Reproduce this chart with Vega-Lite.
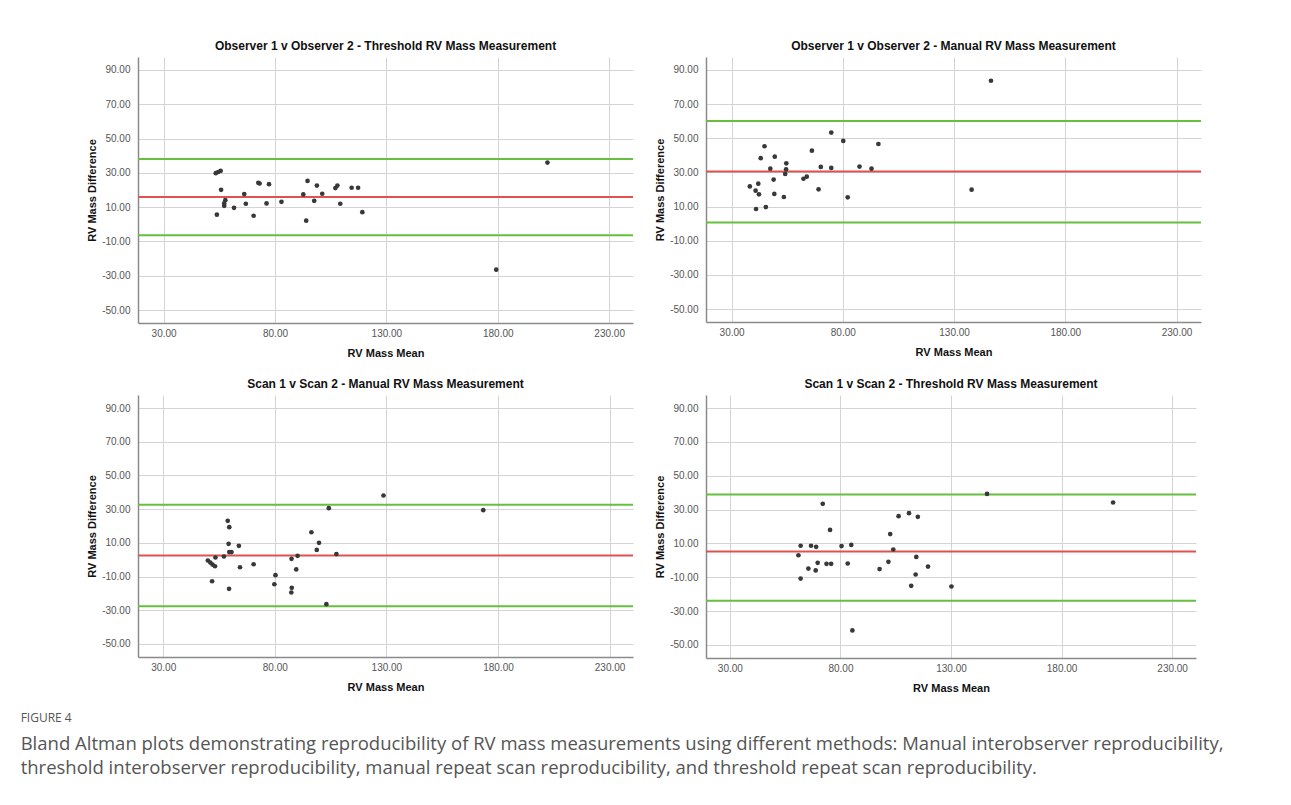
{
  "$schema": "https://vega.github.io/schema/vega-lite/v6.json",
  "background": "white",
  "padding": {"left": 20, "top": 40, "right": 10, "bottom": 10},
  "config": {
    "view": {"stroke": null},
    "font": "Liberation Sans",
    "axis": {
      "grid": true, "gridColor": "#d4d4d4", "gridWidth": 1,
      "ticks": false, "domainColor": "#8a8a8a", "domainWidth": 1.5,
      "labelColor": "#555555", "labelFont": "Liberation Sans", "labelFontSize": 10, "labelOverlap": false,
      "labelExpr": "replace(format(datum.value, '.2f'), '\u2212', '-')",
      "tickCount": 20,
      "titleFont": "Liberation Sans", "titleFontSize": 11, "titleFontWeight": "bold", "titleColor": "#111111"
    },
    "axisX": {"labelPadding": 5, "titlePadding": 9},
    "axisY": {"labelPadding": 8, "titlePadding": 4}
  },
  "datasets": {
    "points": [
      {"panel":1,"mean":53.4,"diff":29.8},{"panel":1,"mean":54.5,"diff":30.5},{"panel":1,"mean":55.6,"diff":31.1},{"panel":1,"mean":55.8,"diff":20.1},{"panel":1,"mean":53.9,"diff":5.6},{"panel":1,"mean":57.2,"diff":12.2},{"panel":1,"mean":57.7,"diff":14.1},{"panel":1,"mean":57.2,"diff":10.8},{"panel":1,"mean":61.6,"diff":9.6},{"panel":1,"mean":66.2,"diff":17.6},{"panel":1,"mean":66.9,"diff":12.0},{"panel":1,"mean":70.4,"diff":5.0},{"panel":1,"mean":72.5,"diff":24.2},{"panel":1,"mean":73.1,"diff":23.8},{"panel":1,"mean":77.3,"diff":23.4},{"panel":1,"mean":76.2,"diff":12.2},{"panel":1,"mean":82.9,"diff":13.1},{"panel":1,"mean":92.7,"diff":17.4},{"panel":1,"mean":94.6,"diff":25.3},{"panel":1,"mean":94.0,"diff":2.1},{"panel":1,"mean":97.6,"diff":13.7},{"panel":1,"mean":98.8,"diff":22.6},{"panel":1,"mean":101.2,"diff":17.8},{"panel":1,"mean":107.1,"diff":21.1},{"panel":1,"mean":108.0,"diff":22.6},{"panel":1,"mean":109.3,"diff":12.0},{"panel":1,"mean":114.4,"diff":21.3},{"panel":1,"mean":117.3,"diff":21.3},{"panel":1,"mean":119.2,"diff":7.1},{"panel":1,"mean":179.3,"diff":-26.4},{"panel":1,"mean":202.3,"diff":36.0},
      {"panel":2,"mean":38.2,"diff":21.8},{"panel":2,"mean":40.8,"diff":19.3},{"panel":2,"mean":41.0,"diff":8.6},{"panel":2,"mean":42.0,"diff":23.4},{"panel":2,"mean":42.3,"diff":17.2},{"panel":2,"mean":43.1,"diff":38.3},{"panel":2,"mean":44.8,"diff":45.3},{"panel":2,"mean":45.4,"diff":9.7},{"panel":2,"mean":47.4,"diff":32.2},{"panel":2,"mean":48.9,"diff":25.8},{"panel":2,"mean":49.4,"diff":39.2},{"panel":2,"mean":49.2,"diff":17.4},{"panel":2,"mean":53.5,"diff":15.6},{"panel":2,"mean":54.1,"diff":29.1},{"panel":2,"mean":54.5,"diff":31.8},{"panel":2,"mean":54.6,"diff":35.3},{"panel":2,"mean":62.3,"diff":26.3},{"panel":2,"mean":63.8,"diff":27.5},{"panel":2,"mean":66.1,"diff":42.7},{"panel":2,"mean":69.1,"diff":20.1},{"panel":2,"mean":70.1,"diff":33.2},{"panel":2,"mean":74.8,"diff":53.3},{"panel":2,"mean":74.8,"diff":32.6},{"panel":2,"mean":80.2,"diff":48.4},{"panel":2,"mean":82.2,"diff":15.4},{"panel":2,"mean":87.5,"diff":33.4},{"panel":2,"mean":92.9,"diff":32.2},{"panel":2,"mean":96.0,"diff":46.6},{"panel":2,"mean":137.9,"diff":19.9},{"panel":2,"mean":146.6,"diff":83.6},
      {"panel":3,"mean":50.0,"diff":-0.5},{"panel":3,"mean":51.1,"diff":-1.7},{"panel":3,"mean":52.1,"diff":-2.9},{"panel":3,"mean":53.2,"diff":-3.9},{"panel":3,"mean":53.4,"diff":1.3},{"panel":3,"mean":51.9,"diff":-12.8},{"panel":3,"mean":57.2,"diff":1.9},{"panel":3,"mean":58.9,"diff":23.1},{"panel":3,"mean":59.6,"diff":19.3},{"panel":3,"mean":59.3,"diff":9.4},{"panel":3,"mean":59.6,"diff":4.5},{"panel":3,"mean":60.6,"diff":4.5},{"panel":3,"mean":59.5,"diff":-17.3},{"panel":3,"mean":63.9,"diff":8.2},{"panel":3,"mean":64.4,"diff":-4.5},{"panel":3,"mean":70.5,"diff":-2.7},{"panel":3,"mean":79.8,"diff":-14.6},{"panel":3,"mean":80.3,"diff":-9.2},{"panel":3,"mean":87.5,"diff":0.5},{"panel":3,"mean":87.6,"diff":-16.7},{"panel":3,"mean":87.4,"diff":-19.5},{"panel":3,"mean":89.6,"diff":-5.8},{"panel":3,"mean":90.2,"diff":2.3},{"panel":3,"mean":96.4,"diff":16.3},{"panel":3,"mean":98.8,"diff":5.8},{"panel":3,"mean":99.8,"diff":10.0},{"panel":3,"mean":103.1,"diff":-26.4},{"panel":3,"mean":104.2,"diff":30.6},{"panel":3,"mean":107.6,"diff":3.3},{"panel":3,"mean":128.7,"diff":38.1},{"panel":3,"mean":173.4,"diff":29.4},
      {"panel":4,"mean":61.0,"diff":3.0},{"panel":4,"mean":62.0,"diff":8.6},{"panel":4,"mean":62.0,"diff":-10.8},{"panel":4,"mean":65.5,"diff":-4.9},{"panel":4,"mean":66.7,"diff":8.6},{"panel":4,"mean":69.0,"diff":8.0},{"panel":4,"mean":68.8,"diff":-6.0},{"panel":4,"mean":69.7,"diff":-1.5},{"panel":4,"mean":72.0,"diff":33.4},{"panel":4,"mean":73.7,"diff":-2.1},{"panel":4,"mean":75.8,"diff":-2.1},{"panel":4,"mean":75.3,"diff":18.0},{"panel":4,"mean":80.5,"diff":8.4},{"panel":4,"mean":83.3,"diff":-1.9},{"panel":4,"mean":84.9,"diff":9.1},{"panel":4,"mean":85.4,"diff":-41.5},{"panel":4,"mean":97.7,"diff":-5.2},{"panel":4,"mean":101.7,"diff":-0.9},{"panel":4,"mean":102.5,"diff":15.5},{"panel":4,"mean":103.9,"diff":6.4},{"panel":4,"mean":106.3,"diff":26.1},{"panel":4,"mean":111.0,"diff":27.9},{"panel":4,"mean":112.0,"diff":-15.1},{"panel":4,"mean":114.0,"diff":-8.4},{"panel":4,"mean":114.3,"diff":2.0},{"panel":4,"mean":115.0,"diff":25.7},{"panel":4,"mean":119.6,"diff":-3.7},{"panel":4,"mean":130.2,"diff":-15.5},{"panel":4,"mean":146.3,"diff":39.3},{"panel":4,"mean":203.3,"diff":34.2}
    ],
    "lines": [
      {"panel":1,"kind":"mean","value":15.9},{"panel":1,"kind":"upper","value":38.1},{"panel":1,"kind":"lower","value":-6.4},
      {"panel":2,"kind":"mean","value":30.5},{"panel":2,"kind":"upper","value":60.0},{"panel":2,"kind":"lower","value":0.7},
      {"panel":3,"kind":"mean","value":2.5},{"panel":3,"kind":"upper","value":32.6},{"panel":3,"kind":"lower","value":-27.6},
      {"panel":4,"kind":"mean","value":5.2},{"panel":4,"kind":"upper","value":38.9},{"panel":4,"kind":"lower","value":-24.0}
    ]
  },
  "title": {
    "text": "FIGURE 4",
    "subtitle": [
      "Bland Altman plots demonstrating reproducibility of RV mass measurements using different methods: Manual interobserver reproducibility,",
      "threshold interobserver reproducibility, manual repeat scan reproducibility, and threshold repeat scan reproducibility."
    ],
    "orient": "bottom", "anchor": "start", "frame": "bounds", "dx": -66, "offset": 20,
    "font": "Open Sans", "fontSize": 12, "fontWeight": "normal", "color": "#555555",
    "subtitleFont": "Open Sans", "subtitleFontSize": 18.5, "subtitleColor": "#555555",
    "subtitleLineHeight": 24, "subtitlePadding": 10
  },
  "spacing": 20,
  "vconcat": [
    {
      "spacing": 20,
      "hconcat": [
        {
          "width": 495, "height": 266,
          "title": {"text": "Observer 1 v Observer 2 - Threshold RV Mass Measurement", "fontSize": 12, "fontWeight": "bold", "color": "#111111", "offset": 4},
          "layer": [
            {"data": {"name": "lines"}, "transform": [{"filter": "datum.panel == 1"}], "mark": {"type": "rule", "strokeWidth": 2},
             "encoding": {"y": {"field": "value", "type": "quantitative"}, "color": {"field": "kind", "type": "nominal", "scale": {"domain": ["mean", "upper", "lower"], "range": ["#e05252", "#66bf3f", "#66bf3f"]}, "legend": null}}},
            {"data": {"name": "points"}, "transform": [{"filter": "datum.panel == 1"}], "mark": {"type": "circle", "size": 22, "color": "#383838", "opacity": 1},
             "encoding": {
               "x": {"field": "mean", "type": "quantitative", "title": "RV Mass Mean", "scale": {"domain": [18.5, 240.7], "nice": false, "zero": false}, "axis": {"values": [30, 80, 130, 180, 230], "tickCount": 20}},
               "y": {"field": "diff", "type": "quantitative", "title": "RV Mass Difference", "scale": {"domain": [-57.5, 97.5], "nice": false, "zero": false}, "axis": {"values": [-50, -30, -10, 10, 30, 50, 70, 90], "tickCount": 20}}
             }}
          ]
        },
        {
          "width": 495, "height": 265,
          "title": {"text": "Observer 1 v Observer 2 - Manual RV Mass Measurement", "fontSize": 12, "fontWeight": "bold", "color": "#111111", "offset": 4},
          "layer": [
            {"data": {"name": "lines"}, "transform": [{"filter": "datum.panel == 2"}], "mark": {"type": "rule", "strokeWidth": 2},
             "encoding": {"y": {"field": "value", "type": "quantitative"}, "color": {"field": "kind", "type": "nominal", "scale": {"domain": ["mean", "upper", "lower"], "range": ["#e05252", "#66bf3f", "#66bf3f"]}, "legend": null}}},
            {"data": {"name": "points"}, "transform": [{"filter": "datum.panel == 2"}], "mark": {"type": "circle", "size": 22, "color": "#383838", "opacity": 1},
             "encoding": {
               "x": {"field": "mean", "type": "quantitative", "title": "RV Mass Mean", "scale": {"domain": [18.5, 241], "nice": false, "zero": false}, "axis": {"values": [30, 80, 130, 180, 230], "tickCount": 20}},
               "y": {"field": "diff", "type": "quantitative", "title": "RV Mass Difference", "scale": {"domain": [-57.5, 97.5], "nice": false, "zero": false}, "axis": {"values": [-50, -30, -10, 10, 30, 50, 70, 90], "tickCount": 20}}
             }}
          ]
        }
      ]
    },
    {
      "spacing": 20,
      "hconcat": [
        {
          "width": 495, "height": 262,
          "title": {"text": "Scan 1 v Scan 2 - Manual RV Mass Measurement", "fontSize": 12, "fontWeight": "bold", "color": "#111111", "offset": 4},
          "layer": [
            {"data": {"name": "lines"}, "transform": [{"filter": "datum.panel == 3"}], "mark": {"type": "rule", "strokeWidth": 2},
             "encoding": {"y": {"field": "value", "type": "quantitative"}, "color": {"field": "kind", "type": "nominal", "scale": {"domain": ["mean", "upper", "lower"], "range": ["#e05252", "#66bf3f", "#66bf3f"]}, "legend": null}}},
            {"data": {"name": "points"}, "transform": [{"filter": "datum.panel == 3"}], "mark": {"type": "circle", "size": 22, "color": "#383838", "opacity": 1},
             "encoding": {
               "x": {"field": "mean", "type": "quantitative", "title": "RV Mass Mean", "scale": {"domain": [18.7, 240.5], "nice": false, "zero": false}, "axis": {"values": [30, 80, 130, 180, 230], "tickCount": 20}},
               "y": {"field": "diff", "type": "quantitative", "title": "RV Mass Difference", "scale": {"domain": [-57.8, 97.8], "nice": false, "zero": false}, "axis": {"values": [-50, -30, -10, 10, 30, 50, 70, 90], "tickCount": 20}}
             }}
          ]
        },
        {
          "width": 490, "height": 263,
          "title": {"text": "Scan 1 v Scan 2 - Threshold RV Mass Measurement", "fontSize": 12, "fontWeight": "bold", "color": "#111111", "offset": 4},
          "layer": [
            {"data": {"name": "lines"}, "transform": [{"filter": "datum.panel == 4"}], "mark": {"type": "rule", "strokeWidth": 2},
             "encoding": {"y": {"field": "value", "type": "quantitative"}, "color": {"field": "kind", "type": "nominal", "scale": {"domain": ["mean", "upper", "lower"], "range": ["#e05252", "#66bf3f", "#66bf3f"]}, "legend": null}}},
            {"data": {"name": "points"}, "transform": [{"filter": "datum.panel == 4"}], "mark": {"type": "circle", "size": 22, "color": "#383838", "opacity": 1},
             "encoding": {
               "x": {"field": "mean", "type": "quantitative", "title": "RV Mass Mean", "scale": {"domain": [19.2, 240.8], "nice": false, "zero": false}, "axis": {"values": [30, 80, 130, 180, 230], "tickCount": 20}},
               "y": {"field": "diff", "type": "quantitative", "title": "RV Mass Difference", "scale": {"domain": [-57.8, 97.8], "nice": false, "zero": false}, "axis": {"values": [-50, -30, -10, 10, 30, 50, 70, 90], "tickCount": 20}}
             }}
          ]
        }
      ]
    }
  ]
}
